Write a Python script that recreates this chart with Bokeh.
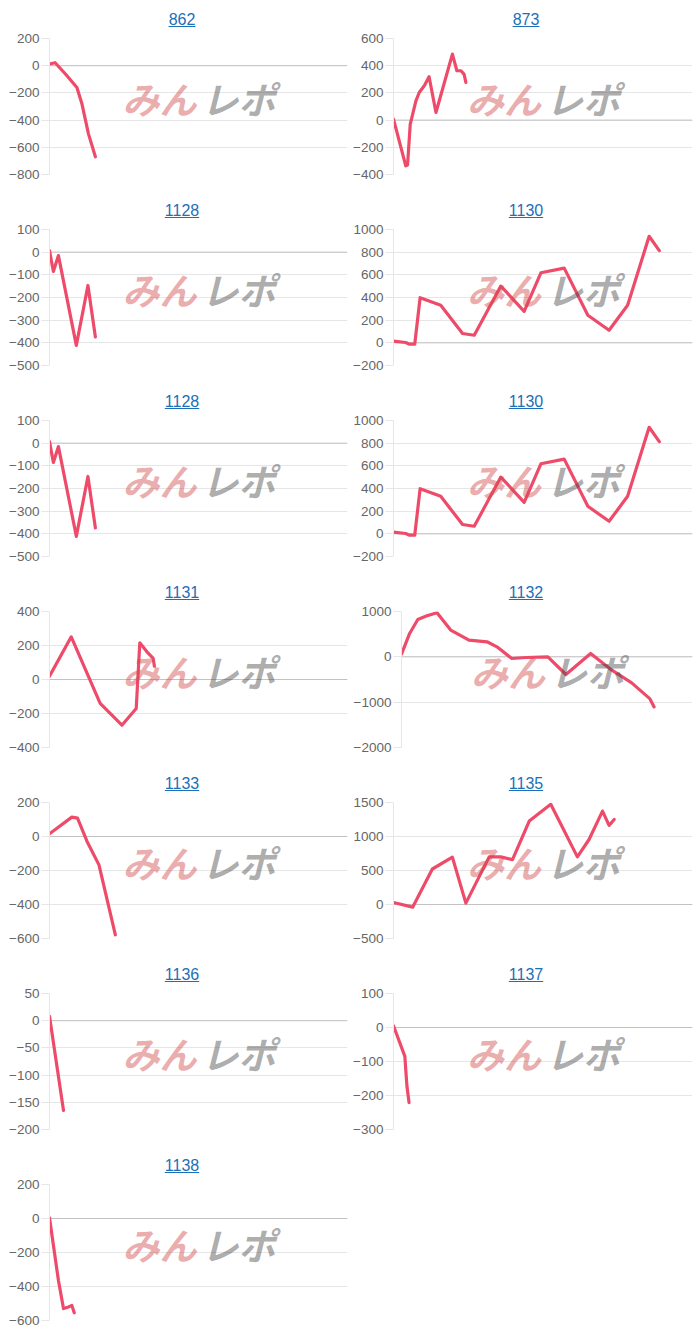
from bokeh.plotting import figure
from bokeh.models import Range1d, FixedTicker, Span, Div, Label, Spacer
from bokeh.layouts import column, row
from bokeh.embed import file_html
from bokeh.resources import INLINE

# ---------------- data (x = position along the day, 0..100) ----------------
titles = ["862", "873", "1128", "1130", "1128", "1130", "1131", "1132",
          "1133", "1135", "1136", "1137", "1138"]

x_862 = [0, 1.9, 5.5, 9.2, 10.9, 13.1, 15.4]
y_862 = [12, 22, -65, -160, -282, -503, -670]
t_862 = [-800, -600, -400, -200, 0, 200]

x_873 = [0, 4.1, 4.7, 5.6, 7.5, 8.6, 10.3, 11.9, 14.2, 19.7, 21.2, 22.5, 23.6, 24.2]
y_873 = [7, -336, -330, -29, 142, 203, 252, 319, 56, 485, 363, 363, 338, 277]
t_873 = [-400, -200, 0, 200, 400, 600]

x_1128 = [0, 1.3, 3.0, 9.0, 12.9, 15.4]
y_1128 = [7, -85, -15, -411, -147, -374]
t_1128 = [-500, -400, -300, -200, -100, 0, 100]

x_1130 = [0, 4.1, 5.2, 7.1, 8.9, 15.8, 23.1, 27.0, 35.9, 43.7, 49.3, 57.1, 65.0, 72.1, 78.3, 85.5, 88.9]
y_1130 = [15, 3, -12, -12, 398, 331, 82, 67, 501, 278, 618, 659, 243, 111, 331, 940, 814]
t_1130 = [-200, 0, 200, 400, 600, 800, 1000]

x_1131 = [0, 7.3, 17.0, 24.3, 29.1, 30.3, 32.7, 34.8, 35.2]
y_1131 = [20, 251, -141, -269, -171, 216, 163, 124, 78]
t_1131 = [-400, -200, 0, 200, 400]

x_1132 = [0, 2.8, 5.6, 8.5, 12.2, 16.9, 23.2, 29.4, 32.8, 37.9, 42.9, 50.3, 56.5, 65.0, 72.3, 79.1, 85.3, 86.8]
y_1132 = [59, 516, 825, 899, 973, 590, 368, 332, 221, -37, -15, 0, -390, 74, -295, -575, -921, -1105]
t_1132 = [-2000, -1000, 0, 1000]

x_1133 = [0, 7.5, 9.4, 12.6, 16.6, 22.1]
y_1133 = [16, 114, 108, -29, -167, -578]
t_1133 = [-600, -400, -200, 0, 200]

x_1135 = [0, 6.4, 13.0, 19.7, 24.2, 32.0, 35.9, 39.8, 45.4, 52.6, 61.5, 65.4, 69.9, 72.1, 73.8]
y_1135 = [30, -39, 522, 695, 20, 700, 700, 660, 1227, 1473, 700, 956, 1374, 1163, 1251]
t_1135 = [-500, 0, 500, 1000, 1500]

x_1136 = [0, 4.7]
y_1136 = [8, -165]
t_1136 = [-200, -150, -100, -50, 0, 50]

x_1137 = [0, 3.8, 4.1, 4.5, 5.2]
y_1137 = [5, -85, -124, -173, -221]
t_1137 = [-300, -200, -100, 0, 100]

x_1138 = [0, 3.0, 4.7, 6.4, 7.5, 8.3]
y_1138 = [4, -365, -530, -520, -511, -555]
t_1138 = [-600, -400, -200, 0, 200]

series = [
    (x_862, y_862, t_862), (x_873, y_873, t_873),
    (x_1128, y_1128, t_1128), (x_1130, y_1130, t_1130),
    (x_1128, y_1128, t_1128), (x_1130, y_1130, t_1130),
    (x_1131, y_1131, t_1131), (x_1132, y_1132, t_1132),
    (x_1133, y_1133, t_1133), (x_1135, y_1135, t_1135),
    (x_1136, y_1136, t_1136), (x_1137, y_1137, t_1137),
    (x_1138, y_1138, t_1138),
]

# ---------------- styling ----------------
PANEL_W = 350
ROW_H = 191
TITLE_H = 30
FRAME_H = 136
TOP_B = 8
LINE_COLOR = "#ee4b6a"
GRID_COLOR = "#e6e6e6"
ZERO_COLOR = "#c2c2c2"
TITLE_COLOR = "#1d6fb8"


def make_panel(title, xs, ys, ticks, col, last):
    fig_h = (ROW_H - TITLE_H) if not last else (FRAME_H + TOP_B + 8)
    bottom = fig_h - FRAME_H - TOP_B
    maxlen = max(len(str(t)) for t in ticks)
    if col == 0:
        bl, br = 49, 3
        center = 182
    else:
        bl = 47 if maxlen >= 5 else 43
        br = 8
        center = 176
    tw = 120
    div = Div(
        text=(f'<div style="display:block;width:{tw}px;margin-left:{center - tw // 2}px;'
              f'padding-top:9px;text-align:center;'
              f'font-family:\'Liberation Sans\',Arial,sans-serif;font-size:16px;'
              f'line-height:22px;color:{TITLE_COLOR};'
              f'text-decoration:underline;">{title}</div>'),
        width=PANEL_W, height=TITLE_H, margin=0,
    )
    p = figure(width=PANEL_W, height=fig_h, output_backend="svg",
               toolbar_location=None, x_axis_location=None,
               x_range=Range1d(0, 100), y_range=Range1d(min(ticks), max(ticks)),
               min_border_left=bl, min_border_right=br,
               min_border_top=TOP_B, min_border_bottom=bottom,
               outline_line_color=None, background_fill_color="white",
               border_fill_color="white")
    p.xgrid.visible = False
    p.ygrid.grid_line_color = GRID_COLOR
    p.ygrid.ticker = FixedTicker(ticks=ticks)
    ax = p.yaxis[0]
    ax.ticker = FixedTicker(ticks=ticks)
    ax.axis_line_color = GRID_COLOR
    ax.major_tick_line_color = GRID_COLOR
    ax.major_tick_out = 8
    ax.major_tick_in = 0
    ax.minor_tick_line_color = None
    ax.major_label_standoff = 2
    ax.major_label_text_font = "Liberation Sans"
    ax.major_label_text_font_size = "13.5px"
    ax.major_label_text_color = "#666666"
    p.add_layout(Span(location=0, dimension="width", line_color=ZERO_COLOR,
                      line_width=1, level="underlay"))
    p.line(xs, ys, line_width=3.2, line_color=LINE_COLOR,
           line_join="round", line_cap="round")
    ymid = min(ticks) + 0.56 * (max(ticks) - min(ticks))
    p.add_layout(Label(x=50, y=ymid, x_offset=-2, text="みん",
                       text_align="right", text_baseline="middle",
                       text_font="Noto Sans CJK JP", text_font_size="37px",
                       text_font_style="bold italic",
                       text_color="#d34747", text_alpha=0.45))
    p.add_layout(Label(x=50, y=ymid, x_offset=3, text="レポ",
                       text_align="left", text_baseline="middle",
                       text_font="Noto Sans CJK JP", text_font_size="37px",
                       text_font_style="bold italic",
                       text_color="#474747", text_alpha=0.45))
    return column(div, p, spacing=0)


rows = []
n = len(titles)
for r in range(0, n, 2):
    last = (r + 2 >= n)
    left = make_panel(titles[r], *series[r], col=0, last=last)
    if r + 1 < n:
        right = make_panel(titles[r + 1], *series[r + 1], col=1, last=last)
    else:
        right = Spacer(width=PANEL_W, height=10)
    rows.append(row(left, right, spacing=0))

layout = column(*rows, spacing=0)

open("out.html", "w").write(file_html(layout, INLINE))
